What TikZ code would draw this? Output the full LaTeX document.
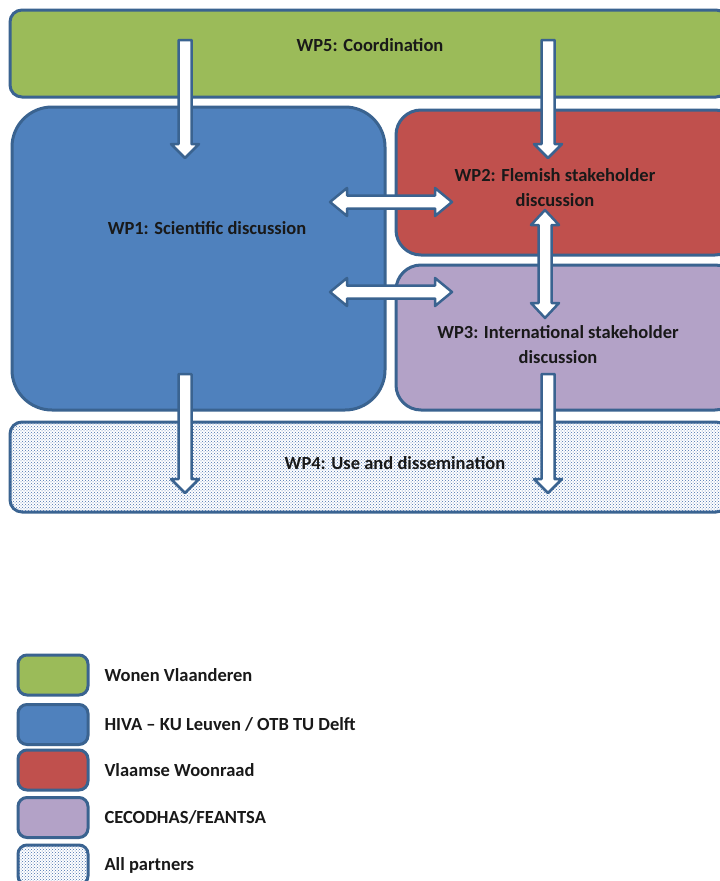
\documentclass[tikz,border=0pt]{standalone}
\usepackage{fontspec}
\setmainfont{Carlito}
\usetikzlibrary{patterns,positioning,calc}

\definecolor{wpgreen}{HTML}{9BBB59}
\definecolor{wpblue}{HTML}{4F81BD}
\definecolor{wpred}{HTML}{C0504D}
\definecolor{wppurple}{HTML}{B3A2C7}
\definecolor{wpline}{HTML}{3A6390}
\definecolor{wpdots}{HTML}{4670AD}

% block arrows between two named coordinates
\newcommand{\wparrowdown}[2]{%
  \draw[blockarrow] let \p1=(#1), \p2=(#2) in
    (\x1-6.5pt,\y1) -- (\x1-6.5pt,\y2+14pt) -- (\x1-14pt,\y2+14pt) -- (\x1,\y2)
    -- (\x1+14pt,\y2+14pt) -- (\x1+6.5pt,\y2+14pt) -- (\x1+6.5pt,\y1) -- cycle;}
\newcommand{\wparrowhoriz}[2]{%
  \draw[blockarrow] let \p1=(#1), \p2=(#2) in
    (\x1,\y1) -- (\x1+17pt,\y1+14pt) -- (\x1+17pt,\y1+6.5pt) -- (\x2-17pt,\y1+6.5pt)
    -- (\x2-17pt,\y1+14pt) -- (\x2,\y1) -- (\x2-17pt,\y1-14pt) -- (\x2-17pt,\y1-6.5pt)
    -- (\x1+17pt,\y1-6.5pt) -- (\x1+17pt,\y1-14pt) -- cycle;}
\newcommand{\wparrowvert}[2]{%
  \draw[blockarrow] let \p1=(#1), \p2=(#2) in
    (\x1,\y1) -- (\x1+14pt,\y1-15pt) -- (\x1+6.5pt,\y1-15pt) -- (\x1+6.5pt,\y2+15pt)
    -- (\x1+14pt,\y2+15pt) -- (\x1,\y2) -- (\x1-14pt,\y2+15pt) -- (\x1-6.5pt,\y2+15pt)
    -- (\x1-6.5pt,\y1-15pt) -- (\x1-14pt,\y1-15pt) -- cycle;}

\begin{document}
\begin{tikzpicture}[x=1pt,y=-1pt,
  box/.style={draw=wpline,line width=3pt,rounded corners=#1,inner sep=0pt,outer sep=0pt},
  box/.default=12pt,
  dotted box/.style={fill=white,postaction={pattern=crosshatch dots,pattern color=wpdots}},
  blockarrow/.style={draw=wpline,fill=white,line width=2.5pt,line join=round},
  wptext/.style={font=\bfseries\fontsize{18.5}{25}\selectfont,align=center,text=black!90},
  legbox/.style={box=9pt,minimum width=70pt,minimum height=40pt},
  legtext/.style={font=\bfseries\fontsize{18.5}{20}\selectfont,text=black!90,right=13pt of #1,anchor=west}]
\useasboundingbox[fill=white] (0,0) rectangle (720,881);

% work packages
\node[box,fill=wpgreen,minimum width=718pt,minimum height=87pt] (wp5) at (369,53.5) {};
\node[box=40pt,fill=wpblue,minimum width=373pt,minimum height=303pt] (wp1) at (198.5,258.5) {};
\node[box=25pt,fill=wpred,minimum width=344pt,minimum height=145pt] (wp2) at (568,182.5) {};
\node[box=25pt,fill=wppurple,minimum width=344pt,minimum height=145pt] (wp3) at (568,337.5) {};
\node[box,dotted box,minimum width=718pt,minimum height=90pt] (wp4) at (369,467) {};

% arrow ends
\coordinate (a1) at (185,40);   \coordinate (b1) at (185,158);
\coordinate (a2) at (548,40);   \coordinate (b2) at (548,158);
\coordinate (a3) at (330,202);  \coordinate (b3) at (452,202);
\coordinate (a4) at (330,292);  \coordinate (b4) at (452,292);
\coordinate (a5) at (545,210);  \coordinate (b5) at (545,318);
\coordinate (a6) at (185,374);  \coordinate (b6) at (185,493);
\coordinate (a7) at (548,374);  \coordinate (b7) at (548,493);

\wparrowdown{a1}{b1}
\wparrowdown{a2}{b2}
\wparrowhoriz{a3}{b3}
\wparrowhoriz{a4}{b4}
\wparrowvert{a5}{b5}
\wparrowdown{a6}{b6}
\wparrowdown{a7}{b7}

% labels
\node[wptext] (t5) at (370,45) {WP5: Coordination};
\node[wptext] (t1) at (207,228) {WP1: Scientific discussion};
\node[wptext] (t2) at (555,188) {WP2: Flemish stakeholder\\discussion};
\node[wptext] (t3) at (558,345) {WP3: International stakeholder\\discussion};
\node[wptext] (t4) at (395,463) {WP4: Use and dissemination};

% legend
\node[legbox,fill=wpgreen] (leg1) at (53,675) {};
\node[legbox,fill=wpblue] (leg2) at (53,724.5) {};
\node[legbox,fill=wpred] (leg3) at (53,770) {};
\node[legbox,fill=wppurple] (leg4) at (53,817.5) {};
\node[legbox,dotted box] (leg5) at (53,865) {};
\node[legtext=leg1] (l1) {Wonen Vlaanderen};
\node[legtext=leg2] (l2) {HIVA -- KU Leuven / OTB TU Delft};
\node[legtext=leg3] (l3) {Vlaamse Woonraad};
\node[legtext=leg4] (l4) {CECODHAS/FEANTSA};
\node[legtext=leg5] (l5) {All partners};
\end{tikzpicture}
\end{document}
